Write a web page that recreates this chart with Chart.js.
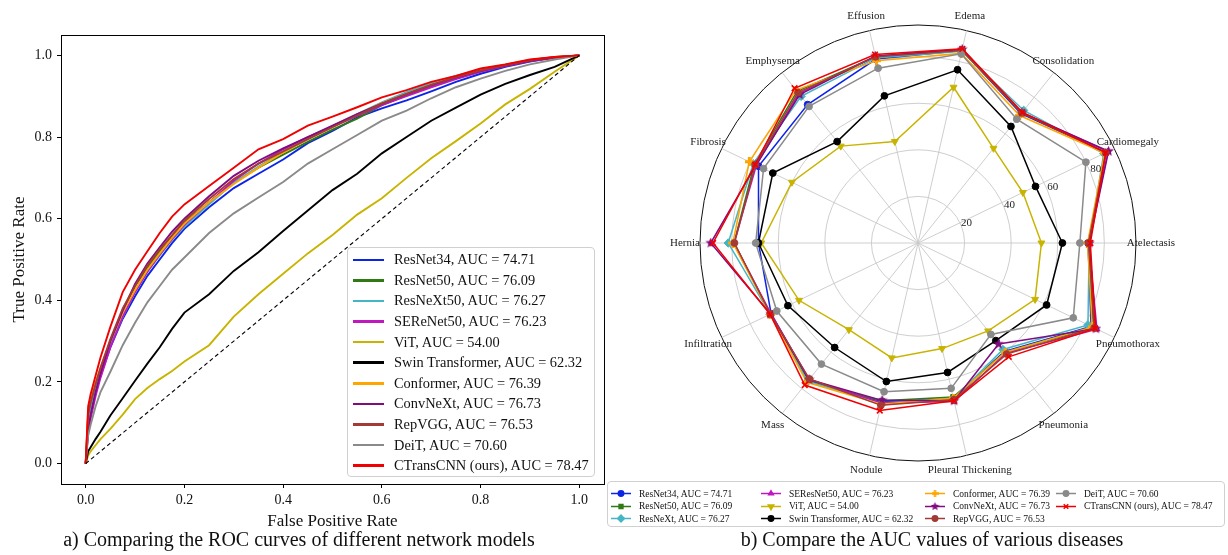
<!DOCTYPE html>
<html>
<head>
<meta charset="utf-8">
<title>ROC curves and per-disease AUC</title>
<script src="https://cdn.jsdelivr.net/npm/chart.js"></script>
<style>
    body {
        margin: 0;
        background: #fff;
        font-family: "Liberation Serif", "DejaVu Serif", serif;
        color: #111;
    }
    #page { position: relative; width: 1228px; height: 555px; overflow: hidden; }
    canvas { position: absolute; }
    #rocChart { left: 0; top: 0; }
    #radarChart { left: 640px; top: 0; }
    .box {
        position: absolute;
        background: rgba(255, 255, 255, 0.85);
        border: 1px solid #d0d0d0;
        border-radius: 4px;
        box-sizing: border-box;
    }
    /* legend inside the ROC plot */
    #rocLegend { left: 347px; top: 247px; width: 248px; height: 230px; padding: 1.5px 0 0 5px; }
    #rocLegend .row { height: 20.6px; display: flex; align-items: center; font-size: 14.4px; white-space: nowrap; }
    #rocLegend .swatch { display: inline-block; width: 31px; height: 2.6px; margin-right: 10px; }
    /* legend under the radar */
    #radarLegend { left: 607px; top: 481px; width: 618px; height: 46px; }
    #radarLegend .col { position: absolute; top: 5.5px; }
    #radarLegend .row { height: 12.6px; display: flex; align-items: center; font-size: 9.5px; white-space: nowrap; }
    #radarLegend .row canvas { position: static; margin-right: 8px; }
    .caption { position: absolute; font-size: 20px; text-align: center; white-space: nowrap; }
    #capA { left: 39px; width: 520px; top: 528px; }
    #capB { left: 672px; width: 520px; top: 528px; }
</style>
</head>
<body>
<div id="page">
    <canvas id="rocChart" width="615" height="532"></canvas>
    <canvas id="radarChart" width="560" height="478"></canvas>
    <div id="rocLegend" class="box"></div>
    <div id="radarLegend" class="box"></div>
    <div id="capA" class="caption">a) Comparing the ROC curves of different network models</div>
    <div id="capB" class="caption">b) Compare the AUC values of various diseases</div>
</div>

<script>
    // ---------- ROC data ----------
    const fprGrid = [0, 0.005, 0.01, 0.02, 0.03, 0.05, 0.075, 0.1, 0.125, 0.15, 0.175, 0.2, 0.25, 0.3,
                     0.35, 0.4, 0.45, 0.5, 0.55, 0.6, 0.65, 0.7, 0.75, 0.8, 0.85, 0.9, 0.95, 1];
    const tprResNet34  = [0, 0.09, 0.125, 0.175, 0.215, 0.285, 0.355, 0.41, 0.46, 0.5, 0.54, 0.575, 0.628, 0.675,
                          0.71, 0.745, 0.785, 0.815, 0.848, 0.87, 0.89, 0.912, 0.935, 0.955, 0.972, 0.985, 0.995, 1];
    const tprResNet50  = [0, 0.1, 0.135, 0.185, 0.225, 0.3, 0.375, 0.435, 0.48, 0.52, 0.555, 0.59, 0.64, 0.688,
                          0.725, 0.757, 0.788, 0.818, 0.845, 0.878, 0.903, 0.924, 0.944, 0.961, 0.975, 0.987, 0.995, 1];
    const tprResNeXt50 = [0, 0.1, 0.13, 0.18, 0.22, 0.29, 0.36, 0.42, 0.47, 0.51, 0.548, 0.58, 0.635, 0.688,
                          0.728, 0.763, 0.795, 0.826, 0.856, 0.885, 0.91, 0.932, 0.95, 0.965, 0.977, 0.988, 0.995, 1];
    const tprSEReNet50 = [0, 0.08, 0.11, 0.165, 0.21, 0.285, 0.36, 0.42, 0.47, 0.512, 0.55, 0.585, 0.64, 0.693,
                          0.735, 0.77, 0.8, 0.826, 0.852, 0.878, 0.9, 0.922, 0.942, 0.96, 0.974, 0.986, 0.994, 1];
    const tprViT       = [0, 0.02, 0.03, 0.045, 0.06, 0.085, 0.12, 0.158, 0.185, 0.207, 0.227, 0.25, 0.29, 0.36,
                          0.415, 0.465, 0.515, 0.56, 0.61, 0.65, 0.7, 0.748, 0.79, 0.833, 0.88, 0.918, 0.96, 1];
    const tprSwin      = [0, 0.03, 0.04, 0.06, 0.078, 0.118, 0.16, 0.203, 0.245, 0.285, 0.33, 0.37, 0.415, 0.472,
                          0.518, 0.57, 0.62, 0.67, 0.71, 0.76, 0.8, 0.84, 0.872, 0.904, 0.93, 0.952, 0.972, 1];
    const tprConformer = [0, 0.13, 0.16, 0.2, 0.235, 0.3, 0.37, 0.425, 0.475, 0.515, 0.553, 0.588, 0.64, 0.685,
                          0.725, 0.762, 0.795, 0.825, 0.855, 0.883, 0.906, 0.928, 0.948, 0.964, 0.977, 0.989, 0.996, 1];
    const tprConvNeXt  = [0, 0.08, 0.12, 0.175, 0.22, 0.3, 0.375, 0.44, 0.49, 0.53, 0.568, 0.6, 0.655, 0.705,
                          0.742, 0.772, 0.8, 0.828, 0.856, 0.882, 0.905, 0.927, 0.946, 0.962, 0.975, 0.987, 0.995, 1];
    const tprRepVGG    = [0, 0.12, 0.15, 0.195, 0.235, 0.305, 0.38, 0.435, 0.485, 0.525, 0.56, 0.595, 0.648, 0.697,
                          0.735, 0.765, 0.795, 0.824, 0.853, 0.882, 0.906, 0.928, 0.947, 0.963, 0.976, 0.988, 0.996, 1];
    const tprDeiT      = [0, 0.069, 0.095, 0.14, 0.175, 0.225, 0.29, 0.345, 0.395, 0.435, 0.475, 0.505, 0.565, 0.613,
                          0.652, 0.69, 0.735, 0.77, 0.805, 0.84, 0.865, 0.895, 0.922, 0.943, 0.962, 0.978, 0.99, 1];
    const tprCTransCNN = [0, 0.14, 0.17, 0.215, 0.26, 0.335, 0.42, 0.475, 0.52, 0.565, 0.605, 0.635, 0.68, 0.725,
                          0.77, 0.795, 0.828, 0.85, 0.873, 0.897, 0.915, 0.935, 0.95, 0.968, 0.978, 0.99, 0.996, 1];
    const chanceLine = [0, 1];
    const rocTicks = [0, 0.2, 0.4, 0.6, 0.8, 1.0];

    const rocNames = ['ResNet34', 'ResNet50', 'ResNeXt50', 'SEReNet50', 'ViT', 'Swin Transformer',
                      'Conformer', 'ConvNeXt', 'RepVGG', 'DeiT', 'CTransCNN (ours)'];
    const aucValues = ['74.71', '76.09', '76.27', '76.23', '54.00', '62.32', '76.39', '76.73', '76.53', '70.60', '78.47'];

    // ---------- per-disease AUC (radar) ----------
    const diseases = ['Atelectasis', 'Cardiomegaly', 'Consolidation', 'Edema', 'Effusion', 'Emphysema', 'Fibrosis',
                      'Hernia', 'Infiltration', 'Mass', 'Nodule', 'Pleural Thickening', 'Pneumonia', 'Pneumothorax'];
    const radarNames = ['ResNet34', 'ResNet50', 'ResNeXt', 'SEResNet50', 'ViT', 'Swin Transformer',
                        'Conformer', 'ConvNeXt', 'RepVGG', 'DeiT', 'CTransCNN (ours)'];
    const aucResNet34  = [73, 89.5, 71, 84.8, 81, 76, 76, 68.5, 70, 75.5, 70, 68.5, 59.5, 82.5];
    const aucResNet50  = [73.5, 89.5, 71.5, 84.8, 82, 83.3, 78, 79, 70.3, 76, 69.5, 67.8, 60, 83.5];
    const aucResNeXt   = [73.5, 88.5, 72.8, 84.5, 81.5, 80.5, 78.5, 81.5, 70.5, 76, 70.5, 68.5, 58.5, 81];
    const aucSEResNet  = [73.3, 90.5, 71.5, 85.3, 82.3, 82, 77, 79, 70, 75, 70.5, 69.8, 60.5, 85.3];
    const aucViT       = [53, 50, 52, 68.6, 44.7, 53.2, 60.1, 67.3, 56.7, 47.6, 50.6, 46.5, 48.3, 55.8];
    const aucSwin      = [62, 56, 64, 76.3, 64.8, 55.7, 69.2, 68.5, 62, 57.4, 61, 57, 53.6, 61.3];
    const aucConformer = [72.8, 89, 70, 83.5, 80.3, 84, 80.4, 79.5, 70.5, 76.5, 71, 68.3, 60, 83];
    const aucConvNeXt  = [73.5, 90.8, 71.5, 85.3, 82.3, 81.5, 77.2, 89, 70.3, 75, 69.3, 69.5, 55.5, 84.8];
    const aucRepVGG    = [73.2, 89.5, 71.5, 84.8, 82, 82.6, 77.5, 78.8, 70.3, 74.7, 71.5, 69, 61, 84];
    const aucDeiT      = [69.5, 80, 68, 83.3, 77, 75, 73.6, 69.7, 67.3, 66.5, 65.5, 64, 50.2, 74];
    const aucCTransCNN = [74, 89.5, 71.8, 85.5, 83, 85, 77.6, 88, 70.5, 78, 73.8, 69.5, 62.5, 84.5];
    const radialRings = [0, 20, 40, 60, 80];
    const rMax = 93.6;

    // ---------- styling ----------
    const colors = ['#0b24e6', '#2f7a12', '#45b5c6', '#bf18bf', '#c8b400', '#000000',
                    '#ffa500', '#800c80', '#a33a35', '#8a8a8a', '#f00000'];
    const markers = ['circle', 'rect', 'rectRot', 'triangle', 'triangleDown', 'circle',
                     'plus', 'star', 'circle', 'circle', 'crossRot'];
    const serif = '"Liberation Serif", "DejaVu Serif", serif';

    // filled star / filled plus like matplotlib '*' and 'P'
    function shapeCanvas(kind, color, size) {
        const c = document.createElement('canvas');
        c.width = size; c.height = size;
        const g = c.getContext('2d');
        g.fillStyle = color;
        const m = size / 2;
        g.beginPath();
        if (kind === 'star') {
            for (let k = 0; k < 10; k++) {
                const r = k % 2 ? m * 0.45 : m;
                const a = -Math.PI / 2 + k * Math.PI / 5;
                g.lineTo(m + r * Math.cos(a), m + r * Math.sin(a));
            }
            g.closePath();
        } else {
            const t = size / 3;
            g.rect(t, 0, t, size);
            g.rect(0, t, size, t);
        }
        g.fill();
        return c;
    }

    function pointOpts(i, k) {
        const m = markers[i];
        if (m === 'star') return { style: shapeCanvas('star', colors[i], Math.round(11 * k)), rot: 0, r: 4 * k, bw: 0 };
        if (m === 'plus') return { style: shapeCanvas('plus', colors[i], Math.round(9 * k)), rot: 0, r: 4 * k, bw: 0 };
        if (m === 'triangleDown') return { style: 'triangle', rot: 180, r: 4 * k, bw: 1 };
        if (m === 'crossRot') return { style: 'crossRot', rot: 0, r: 4 * k, bw: 1.6 };
        if (m === 'rectRot') return { style: 'rectRot', rot: 0, r: 4.2 * k, bw: 1 };
        return { style: m, rot: 0, r: 3.4 * k, bw: 1 };
    }

    // ---------- ROC chart ----------
    const rocSeries = [tprResNet34, tprResNet50, tprResNeXt50, tprSEReNet50, tprViT, tprSwin,
                       tprConformer, tprConvNeXt, tprRepVGG, tprDeiT, tprCTransCNN];

    const rocDatasets = rocSeries.map((tpr, i) => ({
        label: rocNames[i],
        data: fprGrid.map((x, k) => ({ x: x, y: tpr[k] })),
        borderColor: colors[i],
        borderWidth: 1.9,
        pointRadius: 0,
        fill: false,
        order: rocSeries.length - i
    }));
    rocDatasets.push({
        label: 'chance',
        data: chanceLine.map((v, k) => ({ x: chanceLine[k], y: v })),
        borderColor: '#000',
        borderWidth: 1.1,
        borderDash: [4, 3],
        pointRadius: 0,
        fill: false,
        order: 0
    });

    // black box round the plot area, like matplotlib spines
    const frame = {
        id: 'frame',
        afterDraw(chart) {
            const a = chart.chartArea, ctx = chart.ctx;
            ctx.save();
            ctx.strokeStyle = '#000';
            ctx.lineWidth = 1;
            ctx.strokeRect(Math.round(a.left) + 0.5, Math.round(a.top) + 0.5,
                           Math.round(a.right - a.left), Math.round(a.bottom - a.top));
            ctx.restore();
        }
    };

    function axis(title, isX) {
        return {
            type: 'linear',
            min: -0.05,
            max: 1.05,
            bounds: 'data',
            afterBuildTicks: s => { s.ticks = rocTicks.map(v => ({ value: v })); },
            afterFit: s => { if (isX) s.height = 48; else s.width = 61; },
            ticks: {
                color: '#111',
                font: { family: serif, size: 14 },
                padding: isX ? 4 : 5,
                autoSkip: false,
                maxRotation: 0,
                callback: v => Number(v).toFixed(1)
            },
            grid: { drawOnChartArea: false, drawTicks: true, tickLength: 4, color: '#000' },
            border: { display: false },
            title: {
                display: true,
                text: title,
                color: '#111',
                font: { family: serif, size: 17 },
                padding: isX ? { top: 0, bottom: 0 } : { top: 9, bottom: 0 }
            }
        };
    }

    new Chart(document.getElementById('rocChart').getContext('2d'), {
        type: 'line',
        data: { datasets: rocDatasets },
        options: {
            responsive: false,
            animation: false,
            layout: { padding: { top: 35, right: 11, left: 0, bottom: 0 } },
            plugins: { legend: { display: false }, tooltip: { enabled: false } },
            elements: { line: { tension: 0 } },
            scales: {
                x: axis('False Positive Rate', true),
                y: axis('True Positive Rate', false)
            }
        },
        plugins: [frame]
    });

    // ROC legend
    const rocLegend = document.getElementById('rocLegend');
    rocNames.forEach((name, i) => {
        const row = document.createElement('div');
        row.className = 'row';
        row.innerHTML = '<span class="swatch" style="background:' + colors[i] + '"></span>' +
                        name + ', AUC = ' + aucValues[i];
        rocLegend.appendChild(row);
    });

    // ---------- radar chart ----------
    const radarSeries = [aucResNet34, aucResNet50, aucResNeXt, aucSEResNet, aucViT, aucSwin,
                         aucConformer, aucConvNeXt, aucRepVGG, aucDeiT, aucCTransCNN];
    // matplotlib goes counter-clockwise from the east; Chart.js goes clockwise
    const spokeOrder = [0].concat(diseases.map((d, i) => i).slice(1).reverse());

    const radarDatasets = radarSeries.map((vals, i) => {
        const p = pointOpts(i, 1);
        return {
            label: radarNames[i],
            data: spokeOrder.map(k => vals[k]),
            borderColor: colors[i],
            backgroundColor: 'transparent',
            borderWidth: 1.5,
            fill: false,
            pointStyle: p.style,
            pointRotation: p.rot,
            pointRadius: p.r,
            pointBorderWidth: p.bw,
            pointBackgroundColor: colors[i],
            pointBorderColor: colors[i],
            order: radarSeries.length - i
        };
    });

    const radarText = {
        id: 'radarText',
        afterDraw(chart) {
            const s = chart.scales.r, ctx = chart.ctx;
            ctx.save();
            ctx.fillStyle = '#222';
            ctx.font = '11px ' + serif;
            ctx.textAlign = 'center';
            ctx.textBaseline = 'middle';
            const outer = s.getDistanceFromCenterForValue(rMax) + 15;
            chart.data.labels.forEach((lab, i) => {
                const p = s.getPointPosition(i, outer);
                ctx.fillText(lab, p.x, p.y);
            });
            const a = 22.5 * Math.PI / 180;
            radialRings.slice(1).forEach(v => {
                const d = s.getDistanceFromCenterForValue(v) + 6;
                ctx.fillText(String(v), s.xCenter + d * Math.cos(a), s.yCenter - d * Math.sin(a));
            });
            ctx.restore();
        }
    };

    new Chart(document.getElementById('radarChart').getContext('2d'), {
        type: 'radar',
        data: { labels: spokeOrder.map(k => diseases[k]), datasets: radarDatasets },
        options: {
            responsive: false,
            animation: false,
            layout: { padding: { left: 60, top: 25, right: 64, bottom: 17 } },
            plugins: { legend: { display: false }, tooltip: { enabled: false } },
            elements: { line: { tension: 0 } },
            scales: {
                r: {
                    min: 0,
                    max: rMax,
                    bounds: 'data',
                    startAngle: 90,
                    afterBuildTicks: s => { s.ticks = radialRings.concat([rMax]).map(v => ({ value: v })); },
                    ticks: { display: false },
                    pointLabels: { display: false },
                    grid: {
                        circular: true,
                        color: c => (c.tick && c.tick.value === rMax) ? '#111' : '#c8c8c8',
                        lineWidth: c => (c.tick && c.tick.value === rMax) ? 1 : 0.9
                    },
                    angleLines: { color: '#c8c8c8', lineWidth: 0.9 }
                }
            }
        },
        plugins: [radarText]
    });

    // radar legend: 4 columns, filled column by column like matplotlib ncol=4
    const radarLegend = document.getElementById('radarLegend');
    const colLeft = [3, 153, 317, 448];
    const cols = colLeft.map(x => {
        const c = document.createElement('div');
        c.className = 'col';
        c.style.left = x + 'px';
        radarLegend.appendChild(c);
        return c;
    });
    radarNames.forEach((name, i) => {
        const row = document.createElement('div');
        row.className = 'row';
        const h = document.createElement('canvas');
        h.width = 20; h.height = 11;
        const g = h.getContext('2d');
        g.strokeStyle = colors[i];
        g.fillStyle = colors[i];
        g.lineWidth = 1.5;
        g.beginPath(); g.moveTo(0, 5.5); g.lineTo(20, 5.5); g.stroke();
        const p = pointOpts(i, 0.8);
        Chart.helpers.drawPoint(g, { pointStyle: p.style, rotation: p.rot, radius: p.r, borderWidth: p.bw }, 10, 5.5);
        row.appendChild(h);
        row.appendChild(document.createTextNode(name + ', AUC = ' + aucValues[i]));
        cols[Math.floor(i / 3)].appendChild(row);
    });
</script>
</body>
</html>
